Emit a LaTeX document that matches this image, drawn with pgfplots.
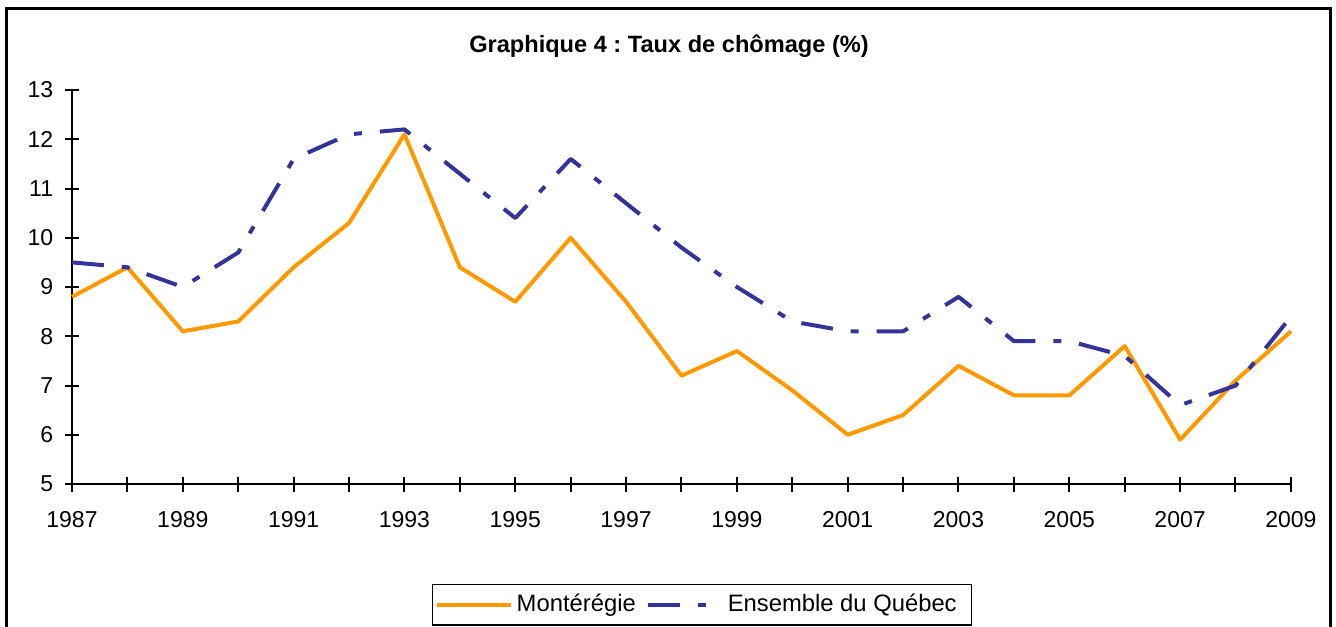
\documentclass[border=0pt]{standalone}
\usepackage{fontspec}
\setmainfont{Liberation Sans}
\usepackage{pgfplots}
\pgfplotsset{compat=1.18}
\definecolor{orangeC}{HTML}{FF9900}
\definecolor{blueC}{HTML}{333399}
\newcommand{\fs}{\fontsize{11.5}{13.8}\selectfont}
\frenchspacing
\begin{document}
\begin{tikzpicture}
\useasboundingbox (0,0) rectangle (668pt,-313pt);
\draw[line width=1.5pt] (3.25pt,-330pt) -- (3.25pt,-4.5pt) -- (665pt,-4.5pt) -- (665pt,-330pt);
\node[font=\fontsize{11.8}{14}\selectfont\bfseries] at (334.5pt,-23pt) {Graphique 4 : Taux de chômage (\%)};
\begin{axis}[
  at={(36pt,-242pt)}, anchor=south west,
  scale only axis, width=609.5pt, height=197pt,
  xmin=1987, xmax=2009, ymin=5, ymax=13,
  axis x line*=bottom, axis y line*=left,
  axis line style={line width=1pt},
  tick style={line width=1pt, black},
  tick align=center, major tick length=7.5pt,
  xtick={1987,...,2009},
  xticklabels={1987,,1989,,1991,,1993,,1995,,1997,,1999,,2001,,2003,,2005,,2007,,2009},
  ytick={5,...,13},
  /pgf/number format/assume math mode=true,
  ticklabel style={font=\fs},
  xticklabel style={anchor=north, inner sep=0pt, yshift=-10pt},
  yticklabel style={anchor=east, inner sep=0pt, xshift=-5.5pt},
  clip=false,
  legend columns=2,
  legend style={at={(0.2953,-0.306)}, anchor=west, draw=black, line width=0.75pt,
    font=\fontsize{11.9}{14}\selectfont,
    inner xsep=1pt, inner ysep=3pt, column sep=0pt,
    /tikz/every odd column/.append style={column sep=0pt},
    /tikz/every even column/.append style={column sep=3pt}},
  legend image code/.code={\draw[#1] (0pt,0pt) -- (37pt,0pt);},
  legend cell align=left,
]
\addplot[color=orangeC, line width=2pt, line join=round] coordinates {
(1987,8.8) (1988,9.4) (1989,8.1) (1990,8.3) (1991,9.4) (1992,10.3) (1993,12.1) (1994,9.4)
(1995,8.7) (1996,10.0) (1997,8.7) (1998,7.2) (1999,7.7) (2000,6.9) (2001,6.0) (2002,6.4)
(2003,7.4) (2004,6.8) (2005,6.8) (2006,7.8) (2007,5.9) (2008,7.1) (2009,8.1)};
\addlegendentry{Montérégie}
\addplot[color=blueC, line width=2pt, line join=round, dash pattern=on 16pt off 9pt on 4pt off 9pt] coordinates {
(1987,9.5) (1988,9.4) (1989,9.0) (1990,9.7) (1991,11.6) (1992,12.1) (1993,12.2) (1994,11.3)
(1995,10.4) (1996,11.6) (1997,10.7) (1998,9.8) (1999,9.0) (2000,8.3) (2001,8.1) (2002,8.1)
(2003,8.8) (2004,7.9) (2005,7.9) (2006,7.6) (2007,6.6) (2008,7.0) (2009,8.4)};
\addlegendentry{Ensemble du Québec\kern4.5pt\null}
\end{axis}
\end{tikzpicture}
\end{document}
